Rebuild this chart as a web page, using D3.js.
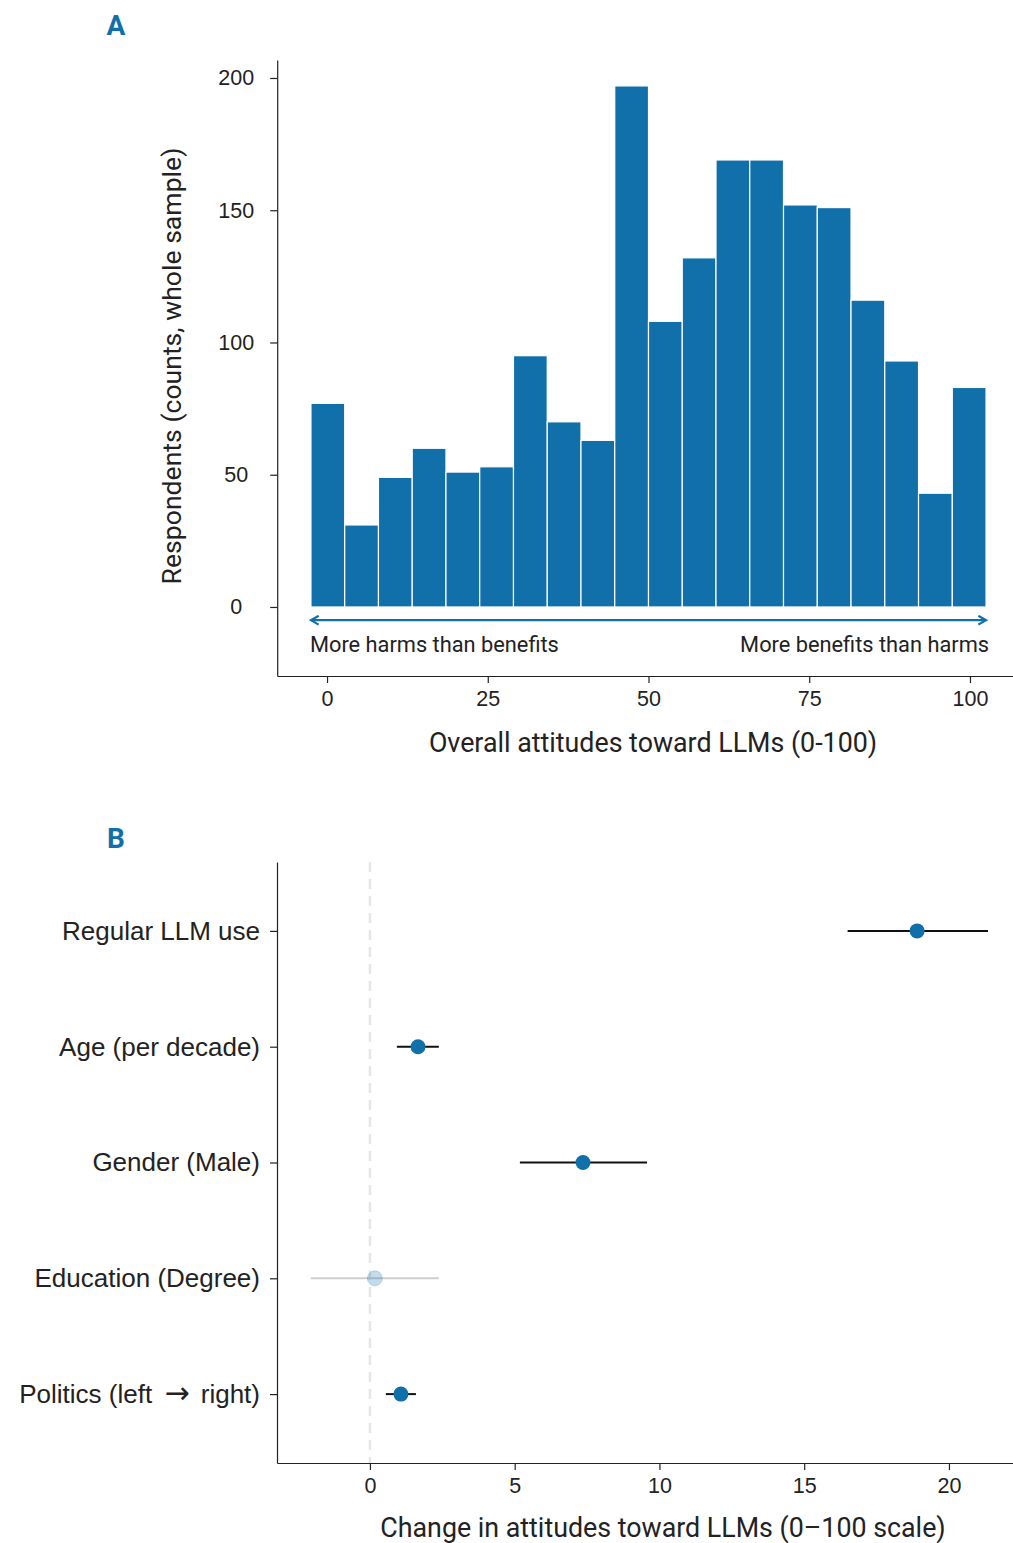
<!DOCTYPE html>
<html>
<head>
<meta charset="utf-8">
<script src="https://cdn.jsdelivr.net/npm/d3@7"></script>
<style>
  body { margin: 0; background: #fff; }
  svg { display: block; font-family: Roboto, "Noto Sans", sans-serif; }
  .axis path, .axis line { stroke: #222; stroke-width: 1.2; }
  .axis text { fill: #222; font-size: 21.5px; }
  .axis.cats text { font-size: 26px; }
</style>
</head>
<body>
<svg id="chart" width="1013" height="1543"></svg>
<script>
// Panel A: histogram of overall attitudes
const binEdges = [-2.5, 2.75, 8, 13.25, 18.5, 23.75, 29, 34.25, 39.5, 44.75, 50,
                  55.25, 60.5, 65.75, 71, 76.25, 81.5, 86.75, 92, 97.25, 102.5];
const counts = [77, 31, 49, 60, 51, 53, 95, 70, 63, 197, 108, 132, 169, 169, 152, 151, 116, 93, 43, 83];
const xTicksA = [0, 25, 50, 75, 100];
const yTicksA = [0, 50, 100, 150, 200];

// Panel B: coefficients with 95% CIs
const predictors = ['Regular LLM use', 'Age (per decade)', 'Gender (Male)', 'Education (Degree)', 'Politics (left \u2192 right)'];
const estimates = [18.9, 1.66, 7.36, 0.17, 1.07];
const ciLow = [16.5, 0.93, 5.18, -2.04, 0.55];
const ciHigh = [21.35, 2.38, 9.57, 2.38, 1.59];
const significant = [true, true, true, false, true];
const xTicksB = [0, 5, 10, 15, 20];

const BLUE = '#1170aa';
const svg = d3.select('#chart');

// ---------- panel A ----------
const xA = d3.scaleLinear().domain([-7.75, 107.75]).range([277.2, 1019.8]);
const yA = d3.scaleLinear().domain([-26.1, 206.8]).range([676, 60]);

const gA = svg.append('g');

gA.selectAll('rect.bar')
  .data(counts)
  .join('rect')
  .attr('class', 'bar')
  .attr('x', (d, i) => xA(binEdges[i]))
  .attr('width', (d, i) => xA(binEdges[i + 1]) - xA(binEdges[i]))
  .attr('y', d => yA(d))
  .attr('height', d => yA(0) - yA(d))
  .attr('fill', BLUE)
  .attr('stroke', '#fff')
  .attr('stroke-width', 1.2);

// double-headed arrow under the bars
const arrowY = yA(-5);
const defs = svg.append('defs');
['start', 'end'].forEach(k => {
  defs.append('marker')
    .attr('id', 'arrow-' + k)
    .attr('viewBox', '0 0 10 10')
    .attr('refX', 8).attr('refY', 5)
    .attr('markerWidth', 5).attr('markerHeight', 5)
    .attr('orient', k === 'start' ? 'auto-start-reverse' : 'auto')
    .append('path')
    .attr('d', 'M1,1 L8,5 L1,9')
    .attr('fill', 'none')
    .attr('stroke', BLUE)
    .attr('stroke-width', 2);
});
gA.append('line')
  .attr('x1', xA(binEdges[0])).attr('x2', xA(binEdges[binEdges.length - 1]))
  .attr('y1', arrowY).attr('y2', arrowY)
  .attr('stroke', BLUE).attr('stroke-width', 2.2)
  .attr('marker-start', 'url(#arrow-start)')
  .attr('marker-end', 'url(#arrow-end)');

gA.append('text')
  .attr('x', xA(binEdges[0]) - 1).attr('y', arrowY + 32)
  .attr('font-size', 21.8).attr('fill', '#222')
  .text('More harms than benefits');
gA.append('text')
  .attr('x', xA(binEdges[binEdges.length - 1]) + 3).attr('y', arrowY + 32)
  .attr('text-anchor', 'end')
  .attr('font-size', 21.8).attr('fill', '#222')
  .text('More benefits than harms');

// axes
gA.append('g').attr('class', 'axis')
  .attr('transform', `translate(0,${yA.range()[0]})`)
  .call(d3.axisBottom(xA).tickValues(xTicksA).tickSize(7).tickPadding(8).tickSizeOuter(0));
const axA_y = gA.append('g').attr('class', 'axis')
  .attr('transform', `translate(${xA.range()[0]},0)`)
  .call(d3.axisLeft(yA).tickValues(yTicksA).tickSize(7).tickSizeOuter(0));
axA_y.selectAll('text').attr('text-anchor', 'middle').attr('x', -41);

gA.append('text')
  .attr('x', 653).attr('y', 752)
  .attr('text-anchor', 'middle').attr('font-size', 26.8).attr('fill', '#222')
  .text('Overall attitudes toward LLMs (0-100)');
gA.append('text')
  .attr('transform', `translate(181,${(60 + 676) / 2 - 2}) rotate(-90)`)
  .attr('text-anchor', 'middle').attr('font-size', 26.6).attr('fill', '#222')
  .text('Respondents (counts, whole sample)');

svg.append('text')
  .attr('x', 116).attr('y', 35)
  .attr('text-anchor', 'middle')
  .attr('font-size', 28).attr('font-weight', 'bold').attr('fill', BLUE)
  .text('A');

// ---------- panel B ----------
const xB = d3.scaleLinear().domain([-3.21, 22.52]).range([277, 1021.9]);
const yB = d3.scalePoint().domain(predictors).range([862, 1463]).padding(0.595);

const gB = svg.append('g');

// reference line at zero
gB.append('line')
  .attr('x1', xB(0)).attr('x2', xB(0))
  .attr('y1', 862).attr('y2', 1463)
  .attr('stroke', '#e6e6e6').attr('stroke-width', 2.5)
  .attr('stroke-dasharray', '10,7');

const rows = predictors.map((p, i) => ({
  name: p, est: estimates[i], lo: ciLow[i], hi: ciHigh[i], sig: significant[i]
}));

gB.selectAll('line.ci')
  .data(rows)
  .join('line')
  .attr('class', 'ci')
  .attr('x1', d => xB(d.lo)).attr('x2', d => xB(d.hi))
  .attr('y1', d => yB(d.name)).attr('y2', d => yB(d.name))
  .attr('stroke', d => d.sig ? '#111' : '#cfcfcf')
  .attr('stroke-width', 2);

gB.selectAll('circle.est')
  .data(rows)
  .join('circle')
  .attr('class', 'est')
  .attr('cx', d => xB(d.est)).attr('cy', d => yB(d.name))
  .attr('r', 7.5)
  .attr('fill', BLUE)
  .attr('fill-opacity', d => d.sig ? 1 : 0.25)
  .attr('stroke', d => d.sig ? 'none' : BLUE)
  .attr('stroke-opacity', 0.2);

gB.append('g').attr('class', 'axis')
  .attr('transform', 'translate(0,1463)')
  .call(d3.axisBottom(xB).tickValues(xTicksB).tickSize(7).tickPadding(8).tickSizeOuter(0));
const axB_y = gB.append('g').attr('class', 'axis cats')
  .attr('transform', `translate(${xB.range()[0]},0)`)
  .call(d3.axisLeft(yB).tickSize(7).tickPadding(10).tickSizeOuter(0));

// the arrow glyph is tiny in Roboto, so draw it in DejaVu Sans, a bit wider
axB_y.selectAll('text')
  .filter(d => d.includes('\u2192'))
  .each(function(d) {
    const t = d3.select(this).text(null);
    const parts = d.split('\u2192');
    t.append('tspan').text(parts[0]);
    t.append('tspan').attr('dx', 5)
      .style('font-family', '"DejaVu Sans"').style('font-size', '30px')
      .text('\u2192');
    t.append('tspan').attr('dx', 4).text(parts[1]);
  });

gB.append('text')
  .attr('x', 663).attr('y', 1537)
  .attr('text-anchor', 'middle').attr('font-size', 26.8).attr('fill', '#222')
  .text('Change in attitudes toward LLMs (0\u2013100 scale)');

svg.append('text')
  .attr('x', 116).attr('y', 848)
  .attr('text-anchor', 'middle')
  .attr('font-size', 28).attr('font-weight', 'bold').attr('fill', BLUE)
  .text('B');
</script>
</body>
</html>
